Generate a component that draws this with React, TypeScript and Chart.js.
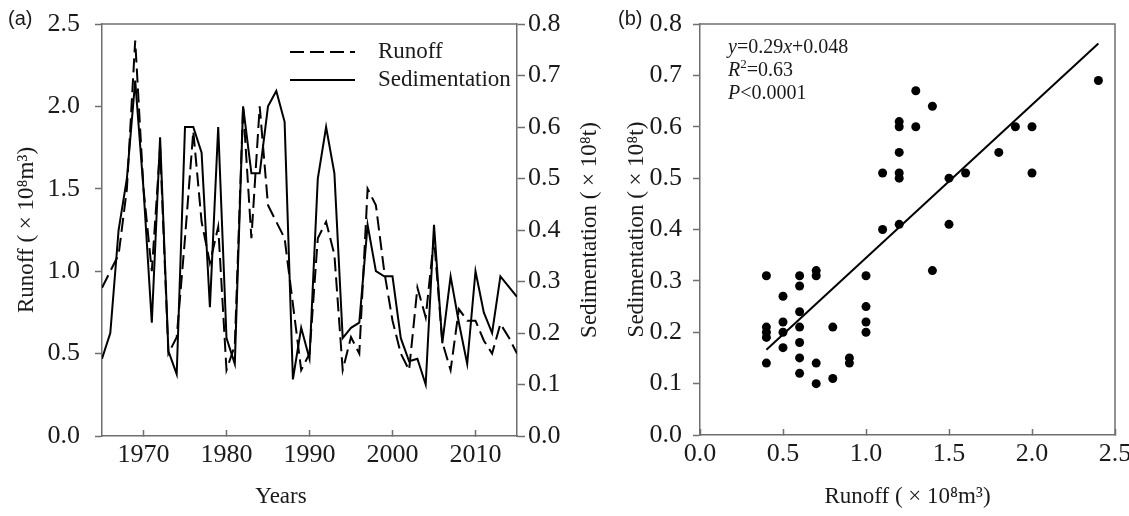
import React, { useEffect, useRef } from 'react';
import { Chart, registerables } from 'chart.js';

Chart.register(...registerables);

// ---------- data ----------
const years = [
  1965, 1966, 1967, 1968, 1969, 1970, 1971, 1972, 1973, 1974,
  1975, 1976, 1977, 1978, 1979, 1980, 1981, 1982, 1983, 1984,
  1985, 1986, 1987, 1988, 1989, 1990, 1991, 1992, 1993, 1994,
  1995, 1996, 1997, 1998, 1999, 2000, 2001, 2002, 2003, 2004,
  2005, 2006, 2007, 2008, 2009, 2010, 2011, 2012, 2013, 2014, 2015,
];
const runoff = [
  0.9, 1.0, 1.1, 1.5, 2.4, 1.5, 1.0, 1.75, 0.5, 0.6,
  1.2, 1.85, 1.3, 1.05, 1.27, 0.4, 0.55, 2.0, 1.2, 2.0,
  1.4, 1.3, 1.2, 0.8, 0.4, 0.5, 1.2, 1.3, 1.1, 0.4,
  0.6, 0.5, 1.5, 1.4, 1.0, 0.7, 0.5, 0.4, 0.9, 0.72,
  1.2, 0.57, 0.4, 0.77, 0.7, 0.7, 0.58, 0.5, 0.68, 0.6, 0.5,
];
const sedimentation = [
  0.15, 0.2, 0.4, 0.5, 0.69, 0.48, 0.22, 0.58, 0.165, 0.12,
  0.6, 0.6, 0.55, 0.25, 0.6, 0.19, 0.14, 0.64, 0.51, 0.51,
  0.64, 0.67, 0.61, 0.11, 0.21, 0.15, 0.5, 0.6, 0.51, 0.19,
  0.21, 0.22, 0.41, 0.32, 0.31, 0.31, 0.19, 0.145, 0.15, 0.1,
  0.41, 0.18, 0.31, 0.22, 0.14, 0.32, 0.24, 0.2, 0.31, 0.29, 0.27,
];
const seriesLabels = ['Runoff', 'Sedimentation'];
const yearTicks = [1970, 1980, 1990, 2000, 2010];
const runoffTicks = [0, 0.5, 1.0, 1.5, 2.0, 2.5];
const sedTicks = [0, 0.1, 0.2, 0.3, 0.4, 0.5, 0.6, 0.7, 0.8];

const scatterRunoff = [
  0.4, 0.4, 0.4, 0.4, 0.4,
  0.5, 0.5, 0.5, 0.5,
  0.6, 0.6, 0.6, 0.6, 0.6, 0.6, 0.6,
  0.7, 0.7, 0.7, 0.7,
  0.8, 0.8,
  0.9, 0.9,
  1.0, 1.0, 1.0, 1.0,
  1.1, 1.1,
  1.2, 1.2, 1.2, 1.2, 1.2, 1.2,
  1.3, 1.3,
  1.4, 1.4,
  1.5, 1.5,
  1.6, 1.8, 1.9, 2.0, 2.0, 2.4,
];
const scatterSed = [
  0.31, 0.21, 0.2, 0.19, 0.14,
  0.27, 0.22, 0.2, 0.17,
  0.31, 0.29, 0.24, 0.21, 0.18, 0.15, 0.12,
  0.32, 0.31, 0.14, 0.1,
  0.21, 0.11,
  0.15, 0.14,
  0.31, 0.25, 0.22, 0.2,
  0.51, 0.4,
  0.61, 0.6, 0.55, 0.51, 0.5, 0.41,
  0.67, 0.6,
  0.64, 0.32,
  0.5, 0.41,
  0.51, 0.55, 0.6, 0.6, 0.51, 0.69,
];
const fitX = [0.4, 2.4];
const fitY = [0.166, 0.762];
const scatterXTicks = [0, 0.5, 1.0, 1.5, 2.0, 2.5];

const runoffTitle = 'Runoff ( \u00d7 10\u2078m\u00b3)';
const sedTitle = 'Sedimentation ( \u00d7 10\u2078t)';
const yearsTitle = 'Years';
const eqLines = [
  [{ t: 'y', it: true }, { t: '=0.29' }, { t: 'x', it: true }, { t: '+0.048' }],
  [{ t: 'R', it: true }, { t: '2', sup: true }, { t: '=0.63' }],
  [{ t: 'P', it: true }, { t: '<0.0001' }],
];

// ---------- styles ----------
const SERIF = "'Liberation Serif', 'Times New Roman', serif";
const AXIS = '#6f6f6f';
const TEXT = '#1a1a1a';
const TICK_FONT = { family: SERIF, size: 26 };
const TITLE_FONT = { family: SERIF, size: 23 };

const fmt1 = (v: any) => Number(v).toFixed(1);
const setTicks = (arr: number[]) => (scale: any) => {
  scale.ticks = arr.map((v) => ({ value: v }));
};
// fix an axis' thickness and stop tick-label overflow from moving the plot area
const fixSize = (prop: 'width' | 'height', size: number) => (s: any) => {
  s[prop] = size;
  s.paddingTop = 0;
  s.paddingBottom = 0;
  s.paddingLeft = 0;
  s.paddingRight = 0;
};

const framePlugin = {
  id: 'frame',
  afterDraw(chart: any, _args: any, opts: any) {
    const { ctx, chartArea } = chart;
    const { left, right, top, bottom } = chartArea;
    ctx.save();
    ctx.strokeStyle = AXIS;
    ctx.lineWidth = 1.5;
    ctx.beginPath();
    ctx.moveTo(left, top);
    ctx.lineTo(right, top);
    if (opts && opts.right) ctx.lineTo(right, bottom);
    ctx.stroke();
    ctx.restore();
  },
};

// extra axis titles of panel (a): right title reads bottom-to-top, "Years" sits left of centre
const extraTitlesPlugin = {
  id: 'extraTitles',
  afterDraw(chart: any, _args: any, opts: any) {
    if (!opts) return;
    const { ctx, chartArea } = chart;
    ctx.save();
    ctx.fillStyle = TEXT;
    ctx.font = `${TITLE_FONT.size}px ${SERIF}`;
    ctx.textAlign = 'center';
    ctx.textBaseline = 'middle';
    if (opts.right) {
      ctx.save();
      ctx.translate(chartArea.right + 73, (chartArea.top + chartArea.bottom) / 2);
      ctx.rotate(-Math.PI / 2);
      ctx.fillText(opts.right, 0, 0);
      ctx.restore();
    }
    if (opts.bottom) {
      ctx.fillText(opts.bottom, chartArea.left + 179, chartArea.bottom + 61);
    }
    ctx.restore();
  },
};

const insideLegend = {
  id: 'insideLegend',
  afterDraw(chart: any, _args: any, opts: any) {
    if (!opts || !opts.show) return;
    const { ctx, chartArea } = chart;
    ctx.save();
    chart.data.datasets.forEach((ds: any, i: number) => {
      const y = chartArea.top + 28 + i * 28;
      const x0 = chartArea.left + 188;
      ctx.strokeStyle = ds.borderColor;
      ctx.lineWidth = 2;
      ctx.setLineDash(ds.borderDash || []);
      ctx.beginPath();
      ctx.moveTo(x0, y);
      ctx.lineTo(x0 + 65, y);
      ctx.stroke();
      ctx.setLineDash([]);
      ctx.fillStyle = TEXT;
      ctx.font = `23px ${SERIF}`;
      ctx.textBaseline = 'middle';
      ctx.textAlign = 'left';
      ctx.fillText(ds.label, x0 + 88, y);
    });
    ctx.restore();
  },
};

const equationPlugin = {
  id: 'equation',
  afterDraw(chart: any, _args: any, opts: any) {
    if (!opts || !opts.show) return;
    const { ctx, chartArea } = chart;
    ctx.save();
    ctx.fillStyle = TEXT;
    ctx.textBaseline = 'middle';
    ctx.textAlign = 'left';
    eqLines.forEach((line, li) => {
      let x = chartArea.left + 28;
      const y = chartArea.top + 24 + li * 23;
      line.forEach((seg: any) => {
        if (seg.sup) {
          ctx.font = `13px ${SERIF}`;
          ctx.fillText(seg.t, x, y - 6);
        } else {
          ctx.font = `${seg.it ? 'italic ' : ''}20px ${SERIF}`;
          ctx.fillText(seg.t, x, y);
        }
        x += ctx.measureText(seg.t).width;
      });
    });
    ctx.restore();
  },
};

function TimeSeries() {
  const ref = useRef<HTMLCanvasElement>(null);
  useEffect(() => {
    const chart = new Chart(ref.current as HTMLCanvasElement, {
      type: 'line',
      data: {
        datasets: [
          {
            label: seriesLabels[0],
            data: years.map((yr, i) => ({ x: yr, y: runoff[i] })),
            yAxisID: 'y',
            borderColor: '#000',
            borderWidth: 2,
            borderDash: [14, 6],
            pointRadius: 0,
            tension: 0,
            fill: false,
          },
          {
            label: seriesLabels[1],
            data: years.map((yr, i) => ({ x: yr, y: sedimentation[i] })),
            yAxisID: 'y2',
            borderColor: '#000',
            borderWidth: 2,
            pointRadius: 0,
            tension: 0,
            fill: false,
          },
        ],
      },
      options: {
        animation: false,
        responsive: false,
        layout: { padding: { left: 13, right: 12, top: 24, bottom: 5 } },
        plugins: {
          legend: { display: false },
          tooltip: { enabled: false },
          frame: { right: false },
          insideLegend: { show: true },
          extraTitles: { right: sedTitle, bottom: yearsTitle },
        } as any,
        scales: {
          x: {
            type: 'linear',
            min: 1965,
            max: 2015,
            afterBuildTicks: setTicks(yearTicks),
            afterFit: fixSize('height', 75),
            grid: { drawOnChartArea: false, tickLength: -6, tickColor: AXIS, tickWidth: 1.5 },
            border: { color: AXIS, width: 1.5 },
            ticks: { font: TICK_FONT, color: TEXT, padding: 10, maxRotation: 0, callback: (v: any) => String(v) },
            title: { display: false },
          },
          y: {
            type: 'linear',
            position: 'left',
            min: 0,
            max: 2.5,
            afterBuildTicks: setTicks(runoffTicks),
            afterFit: fixSize('width', 89),
            grid: { drawOnChartArea: false, tickLength: 7, tickColor: AXIS, tickWidth: 1.5 },
            border: { color: AXIS, width: 1.5 },
            ticks: { font: TICK_FONT, color: TEXT, padding: 15, callback: fmt1 },
            title: { display: true, text: runoffTitle, font: TITLE_FONT, color: TEXT, padding: 0 },
          },
          y2: {
            type: 'linear',
            position: 'right',
            min: 0,
            max: 0.8,
            afterBuildTicks: setTicks(sedTicks),
            afterFit: fixSize('width', 86),
            grid: { drawOnChartArea: false, tickLength: 8, tickColor: AXIS, tickWidth: 1.5 },
            border: { color: AXIS, width: 1.5 },
            ticks: { font: TICK_FONT, color: TEXT, padding: 3, callback: fmt1 },
            title: { display: false },
          },
        },
      } as any,
      plugins: [framePlugin, insideLegend, extraTitlesPlugin],
    });
    return () => chart.destroy();
  }, []);
  return <canvas ref={ref} width={615} height={516} style={{ position: 'absolute', left: 0, top: 0 }} />;
}

function ScatterPanel() {
  const ref = useRef<HTMLCanvasElement>(null);
  useEffect(() => {
    const chart = new Chart(ref.current as HTMLCanvasElement, {
      type: 'scatter',
      data: {
        datasets: [
          {
            label: 'Observed',
            data: scatterRunoff.map((r, i) => ({ x: r, y: scatterSed[i] })),
            backgroundColor: '#000',
            borderColor: '#000',
            pointRadius: 4.5,
            pointBorderWidth: 0,
          },
          {
            type: 'line',
            label: 'Fit',
            data: fitX.map((v, i) => ({ x: v, y: fitY[i] })),
            borderColor: '#000',
            borderWidth: 2,
            pointRadius: 0,
            showLine: true,
            fill: false,
          },
        ],
      },
      options: {
        animation: false,
        responsive: false,
        layout: { padding: { left: 8, right: 22, top: 24, bottom: 5 } },
        plugins: {
          legend: { display: false },
          tooltip: { enabled: false },
          frame: { right: true },
          equation: { show: true },
        } as any,
        scales: {
          x: {
            type: 'linear',
            min: 0,
            max: 2.5,
            afterBuildTicks: setTicks(scatterXTicks),
            afterFit: fixSize('height', 76),
            grid: { drawOnChartArea: false, tickLength: -6, tickColor: AXIS, tickWidth: 1.5 },
            border: { color: AXIS, width: 1.5 },
            ticks: { font: TICK_FONT, color: TEXT, padding: 10, maxRotation: 0, callback: fmt1 },
            title: { display: true, text: runoffTitle, font: TITLE_FONT, color: TEXT, padding: 0 },
          },
          y: {
            type: 'linear',
            position: 'left',
            min: 0,
            max: 0.8,
            afterBuildTicks: setTicks(sedTicks),
            afterFit: fixSize('width', 77),
            grid: { drawOnChartArea: false, tickLength: 7, tickColor: AXIS, tickWidth: 1.5 },
            border: { color: AXIS, width: 1.5 },
            ticks: { font: TICK_FONT, color: TEXT, padding: 11, callback: fmt1 },
            title: { display: true, text: sedTitle, font: TITLE_FONT, color: TEXT, padding: 0 },
          },
        },
      } as any,
      plugins: [framePlugin, equationPlugin],
    });
    return () => chart.destroy();
  }, []);
  return <canvas ref={ref} width={522} height={516} style={{ position: 'absolute', left: 615, top: 0 }} />;
}

const panelLabel: React.CSSProperties = {
  position: 'absolute',
  top: 7,
  fontFamily: "'Liberation Sans', Arial, sans-serif",
  fontSize: 20,
  lineHeight: '22px',
  color: TEXT,
};

export default function App() {
  return (
    <div style={{ position: 'absolute', left: 0, top: 0, width: 1129, height: 516, background: '#fff', overflow: 'hidden' }}>
      <TimeSeries />
      <ScatterPanel />
      <span style={{ ...panelLabel, left: 8 }}>(a)</span>
      <span style={{ ...panelLabel, left: 618 }}>(b)</span>
    </div>
  );
}
